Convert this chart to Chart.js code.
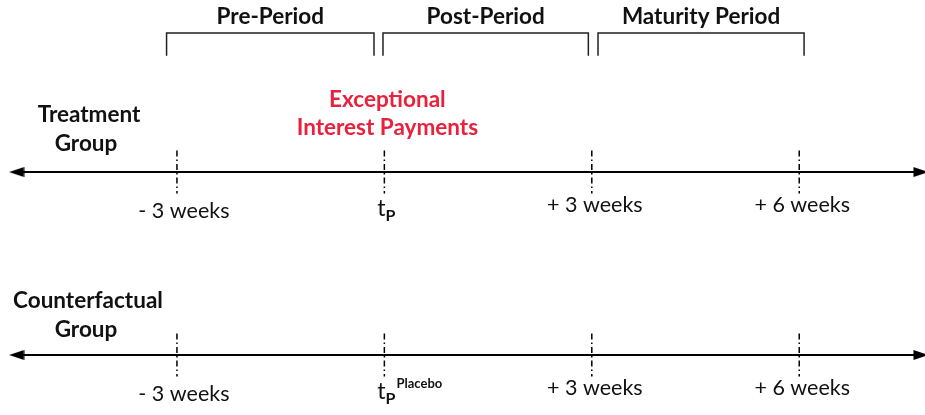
<!DOCTYPE html>
<html>
<head>
<meta charset="utf-8">
<script src="https://cdn.jsdelivr.net/npm/chart.js@4.4.1/dist/chart.umd.min.js"></script>
<style>
  html, body { margin: 0; padding: 0; background: #ffffff; }
  canvas { display: block; }
</style>
</head>
<body>
<canvas id="c" width="925" height="415"></canvas>
<script>
// ---- data (weeks relative to the exceptional interest payment) ----
const tickWeeks = [-3, 0, 3, 6];
const tickLabels = ['- 3 weeks', 't', '+ 3 weeks', '+ 6 weeks'];
const groupNames = [['Treatment', 'Group'], ['Counterfactual', 'Group']];
const groupRows = [1, 0];
const periodNames = ['Pre-Period', 'Post-Period', 'Maturity Period'];
const periodStart = [-3.15, -0.02, 3.09];
const periodEnd = [-0.15, 2.95, 6.07];
const axisStart = -5.32;
const axisEnd = 7.76;
const eventLabel = ['Exceptional', 'Interest Payments'];

// ---- layout helpers (y in row units) ----
const tickHalf = 0.118;
const bracketTop = 1.76;
const bracketBottom = 1.64;

function arrowImage(dir) {
  const cv = document.createElement('canvas');
  cv.width = 16; cv.height = 12;
  const g = cv.getContext('2d');
  g.fillStyle = '#000';
  g.beginPath();
  if (dir < 0) { g.moveTo(0.5, 6); g.lineTo(15.5, 1); g.lineTo(15.5, 11); }
  else { g.moveTo(15.5, 6); g.lineTo(0.5, 1); g.lineTo(0.5, 11); }
  g.closePath(); g.fill();
  return cv;
}
const arrowL = arrowImage(-1), arrowR = arrowImage(1);

const datasets = [];
groupRows.forEach(r => {
  datasets.push({
    data: [{x: axisStart, y: r}, {x: axisEnd, y: r}],
    showLine: true, borderColor: '#000', borderWidth: 2,
    pointStyle: ctx => ctx.dataIndex === 0 ? arrowL : arrowR,
    pointRadius: 8
  });
  tickWeeks.forEach(w => {
    datasets.push({
      data: [{x: w, y: r + tickHalf}, {x: w, y: r - tickHalf}],
      showLine: true, borderColor: '#000', borderWidth: 1.5,
      borderDash: [6, 3, 1.5, 3], pointRadius: 0
    });
  });
});
periodNames.forEach((p, i) => {
  datasets.push({
    data: [{x: periodStart[i], y: bracketBottom}, {x: periodStart[i], y: bracketTop},
           {x: periodEnd[i], y: bracketTop}, {x: periodEnd[i], y: bracketBottom}],
    showLine: true, borderColor: '#222', borderWidth: 1.5, pointRadius: 0,
    borderCapStyle: 'square', borderJoinStyle: 'miter'
  });
});

const FONT = 'Lato, "Open Sans", sans-serif';

const textPlugin = {
  id: 'texts',
  afterDatasetsDraw(chart) {
    const c = chart.ctx, xs = chart.scales.x, ys = chart.scales.y;
    c.save();
    c.textAlign = 'center';
    c.textBaseline = 'middle';
    // period labels
    c.fillStyle = '#111';
    c.font = 'bold 22.5px ' + FONT;
    periodNames.forEach((p, i) => {
      const cx = (xs.getPixelForValue(periodStart[i]) + xs.getPixelForValue(periodEnd[i])) / 2;
      c.fillText(p, cx, ys.getPixelForValue(bracketTop) - 16);
    });
    // group labels
    groupRows.forEach((r, gi) => {
      const y0 = ys.getPixelForValue(r);
      const cx = gi === 0 ? 89 : 88;
      const offs = gi === 0 ? [-57, -28] : [-54, -25];
      c.fillText(groupNames[gi][0], cx, y0 + offs[0]);
      c.fillText(groupNames[gi][1], 86, y0 + offs[1]);
    });
    // event label
    c.fillStyle = '#e8223c';
    const ex = xs.getPixelForValue(0) + 3;
    const ey = ys.getPixelForValue(1);
    c.fillText(eventLabel[0], ex, ey - 72);
    c.fillText(eventLabel[1], ex, ey - 44);
    // tick labels
    c.fillStyle = '#111';
    groupRows.forEach((r, gi) => {
      const y0 = ys.getPixelForValue(r);
      tickWeeks.forEach((w, i) => {
        const px = xs.getPixelForValue(w);
        if (w === 0) {
          c.font = '23px ' + FONT;
          c.textAlign = 'left';
          const tx = px - 7;
          c.fillText(tickLabels[i], tx, y0 + 37);
          const tw = c.measureText(tickLabels[i]).width;
          c.font = 'bold 16px ' + FONT;
          c.fillText('P', tx + tw, y0 + 44);
          if (gi === 1) {
            const pw = c.measureText('P').width;
            c.font = 'bold 13px ' + FONT;
            c.fillText('Placebo', tx + tw + pw + 1, y0 + 29);
          }
          c.textAlign = 'center';
        } else {
          c.font = '21.5px ' + FONT;
          const dy = w < 0 ? 39 : 33;
          c.fillText(tickLabels[i], px + (w < 0 ? 7 : 3), y0 + dy);
        }
      });
    });
    c.restore();
  }
};

new Chart(document.getElementById('c'), {
  type: 'scatter',
  data: { datasets },
  options: {
    responsive: false,
    animation: false,
    layout: { padding: 0, autoPadding: false },
    plugins: { legend: { display: false }, tooltip: { enabled: false } },
    scales: {
      x: { type: 'linear', display: false, min: -5.559, max: 7.819 },
      y: { type: 'linear', display: false, min: -0.328, max: 1.94 }
    }
  },
  plugins: [{
    id: 'bg',
    beforeDraw(chart) {
      const c = chart.ctx;
      c.save(); c.fillStyle = '#fff'; c.fillRect(0, 0, chart.width, chart.height); c.restore();
    }
  }, textPlugin]
});
</script>
</body>
</html>
